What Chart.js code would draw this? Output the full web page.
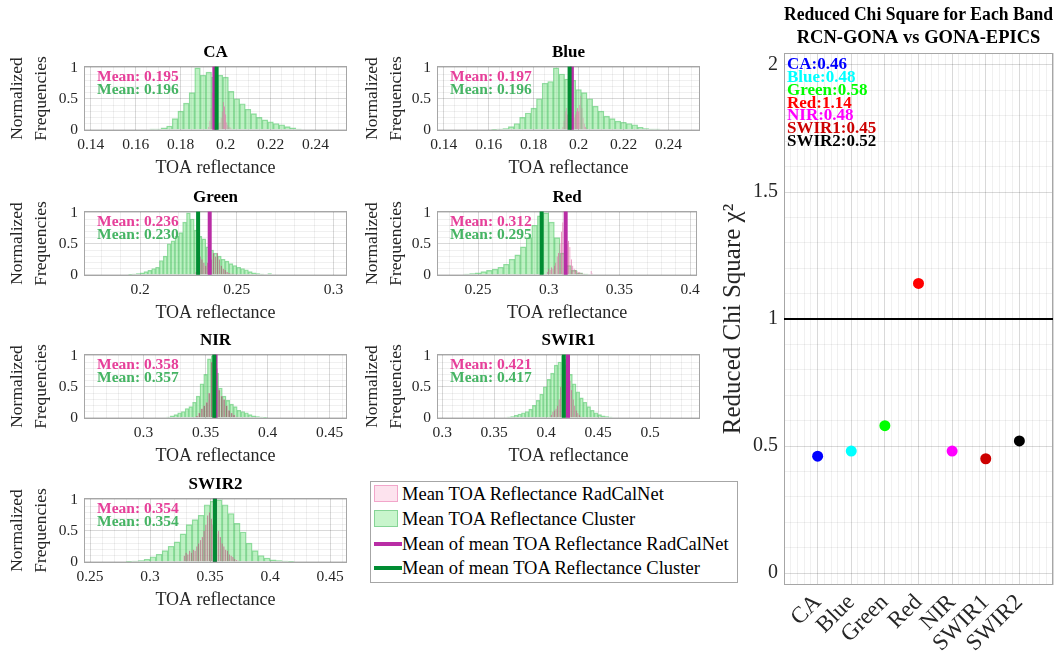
<!DOCTYPE html>
<html>
<head>
<meta charset="utf-8">
<title>Reduced Chi Square for Each Band</title>
<script src="https://cdn.jsdelivr.net/npm/chart.js@4.4.1/dist/chart.umd.min.js"></script>
<style>
	body { margin: 0; background: #fff; }
	#wrap { position: relative; width: 1062px; height: 656px; overflow: hidden; font-family: 'Liberation Serif', serif; }
	#wrap canvas { position: absolute; }
	#legend { position: absolute; left: 370px; top: 481px; width: 368px; height: 102px; border: 1px solid #a6a6a6; box-sizing: border-box; background: #fff; }
	#legend .item { position: absolute; left: 0; height: 24px; line-height: 24px; padding-left: 31px; font-size: 18.5px; color: #000; white-space: nowrap; }
	#legend .sw { position: absolute; left: 3px; }
	#legend .bar { top: 3px; width: 24px; height: 17px; border: 1px solid; box-sizing: border-box; }
	#legend .line { top: 10px; width: 28px; height: 4px; }
</style>
</head>
<body>
<div id="wrap">
	<div id="legend">
		<div class="item" style="top:0px"><span class="sw bar" style="background:#fde3ee;border-color:#f2a6ca"></span>Mean TOA Reflectance RadCalNet</div>
		<div class="item" style="top:25px"><span class="sw bar" style="background:#c8f5cc;border-color:#86d496"></span>Mean TOA Reflectance Cluster</div>
		<div class="item" style="top:50px"><span class="sw line" style="background:#b92da5"></span>Mean of mean TOA Reflectance RadCalNet</div>
		<div class="item" style="top:74px"><span class="sw line" style="background:#008c32"></span>Mean of mean TOA Reflectance Cluster</div>
	</div>
</div>
<script>
// bands and reduced chi square
var bands = ['CA', 'Blue', 'Green', 'Red', 'NIR', 'SWIR1', 'SWIR2'];
var chiSquare = [0.46, 0.48, 0.58, 1.14, 0.48, 0.45, 0.52];
var chiColors = ['#0000ff', '#00ffff', '#00ff00', '#ff0000', '#ff00ff', '#cc0000', '#000000'];

// means of the mean TOA reflectance
var rcnMean = [0.195, 0.197, 0.236, 0.312, 0.358, 0.421, 0.354];
var clusterMean = [0.196, 0.196, 0.230, 0.295, 0.357, 0.417, 0.354];

// x axis limits and tick steps of each histogram
var xMin = [0.137, 0.137, 0.171, 0.221, 0.252, 0.295, 0.245];
var xMax = [0.254, 0.254, 0.307, 0.405, 0.464, 0.548, 0.464];
var xMajor = [0.02, 0.02, 0.05, 0.05, 0.05, 0.05, 0.05];
var xMinor = [0.005, 0.005, 0.01, 0.01, 0.01, 0.01, 0.01];

// cluster histograms (normalized frequencies)
var clusterBinStart = [0.1675, 0.1625, 0.195, 0.242, 0.320, 0.364, 0.2825];
var clusterBinWidth = [0.0025, 0.0025, 0.002, 0.004, 0.003, 0.0035, 0.005];
var clusterCA = [0.01,0.01,0.03,0.06,0.18,0.30,0.43,0.60,1.00,0.88,0.93,0.85,0.88,0.85,0.62,0.50,0.42,0.33,0.26,0.20,0.16,0.13,0.10,0.08,0.05,0.03,0.01];
var clusterBlue = [0.005,0.01,0.02,0.05,0.10,0.20,0.27,0.35,0.50,0.75,0.78,1.00,0.90,0.82,0.80,0.65,0.60,0.50,0.38,0.30,0.22,0.18,0.14,0.12,0.10,0.08,0.04,0.02,0.01,0.01];
var clusterGreen = [0.005,0.01,0.02,0.03,0.05,0.07,0.10,0.12,0.23,0.30,0.50,0.55,0.62,0.68,0.85,1.00,0.90,0.72,0.62,0.58,0.45,0.40,0.35,0.30,0.25,0.22,0.18,0.15,0.12,0.10,0.08,0.05,0.03,0.02,0.01,0.00,0.02];
var clusterRed = [0.01,0.02,0.03,0.05,0.07,0.09,0.12,0.17,0.25,0.32,0.45,0.60,0.80,0.95,1.00,0.85,0.60,0.35,0.15,0.07,0.03,0.01];
var clusterNIR = [0.01,0.03,0.05,0.08,0.10,0.15,0.18,0.25,0.35,0.55,0.70,0.95,1.00,0.72,0.48,0.35,0.28,0.22,0.18,0.12,0.10,0.08,0.05,0.03,0.02,0.01,0.005];
var clusterSWIR1 = [0.01,0.02,0.04,0.06,0.08,0.10,0.14,0.20,0.28,0.38,0.50,0.62,0.72,0.85,0.90,1.00,0.85,0.70,0.55,0.42,0.32,0.25,0.18,0.12,0.08,0.05,0.03,0.02,0.01];
var clusterSWIR2 = [0.005,0.01,0.02,0.04,0.08,0.12,0.18,0.25,0.32,0.45,0.60,0.68,0.75,0.92,0.98,1.00,0.92,0.78,0.62,0.48,0.30,0.18,0.10,0.06,0.03,0.02,0.01,0.005];

// RadCalNet histograms (normalized frequencies)
var rcnBinStart = [0.1925, 0.193, 0.229, 0.299, 0.343, 0.405, 0.3285];
var rcnBinWidth = [0.0005, 0.0005, 0.001, 0.001, 0.002, 0.0015, 0.0015];
var rcnCA = [0.05,0.15,0.35,0.60,0.75,0.85,0.70,0.40,0.20,0.10,0.12,0.20,0.30,0.45,0.38,0.25,0.12,0.08,0.05,0.04,0.02,0.01];
var rcnBlue = [0.05,0.15,0.30,0.35,0.25,0.30,0.40,0.50,0.45,0.30,0.20,0.25,0.30,0.35,0.30,0.40,0.55,0.35,0.20,0.10,0.05,0.02];
var rcnGreen = [0.05,0.12,0.30,0.25,0.20,0.15,0.20,0.30,0.25,0.35,0.30,0.35,0.25,0.15,0.10,0.08,0.05,0.03,0.02,0.02,0.01];
var rcnRed = [0.05,0.10,0.08,0.12,0.10,0.15,0.20,0.30,0.35,0.50,0.70,0.85,0.75,0.60,0.50,0.55,0.45,0.25,0.15,0.10,0.08,0.06,0.04,0.05,0.03,0.02,0.02,0.00,0.01,0.00,0.00,0.06,0.02];
var rcnNIR = [0.03,0.08,0.15,0.20,0.25,0.40,0.90,1.00,0.80,0.45,0.35,0.30,0.20,0.12,0.08,0.05,0.02];
var rcnSWIR1 = [0.05,0.10,0.12,0.15,0.20,0.30,0.50,0.70,0.85,0.95,0.80,0.65,0.60,0.45,0.30,0.20,0.12,0.08,0.05,0.02];
var rcnSWIR2 = [0.10,0.15,0.12,0.18,0.15,0.20,0.18,0.25,0.30,0.35,0.40,0.50,0.60,0.75,0.80,0.70,0.60,0.55,0.45,0.50,0.40,0.30,0.25,0.20,0.18,0.12,0.10,0.08,0.05,0.03,0.02];

var clusterCounts = [clusterCA, clusterBlue, clusterGreen, clusterRed, clusterNIR, clusterSWIR1, clusterSWIR2];
var rcnCounts = [rcnCA, rcnBlue, rcnGreen, rcnRed, rcnNIR, rcnSWIR1, rcnSWIR2];

// where each small plot sits on the page
var panelLeft = [0, 355, 0, 355, 0, 355, 0];
var panelTop = [38, 38, 183, 183, 326, 326, 470];

Chart.defaults.font.family = "'Liberation Serif', serif";
Chart.defaults.color = '#262626';

function isStep(v, step) {
	var r = v / step;
	return Math.abs(r - Math.round(r)) < 1e-6;
}

function tickLabel(step) {
	return function(v) {
		return isStep(v, step) ? String(+v.toFixed(3)) : [];
	};
}

function gridColor(step) {
	return function(ctx) {
		var v = ctx.tick ? ctx.tick.value : 0;
		return isStep(v, step) ? 'rgba(0,0,0,0.15)' : 'rgba(0,0,0,0.06)';
	};
}

// ticks (for the grid) at every multiple of step inside the axis limits
function stepTicks(step) {
	return function(scale) {
		var t = [];
		var k0 = Math.ceil(scale.min / step - 1e-6), k1 = Math.floor(scale.max / step + 1e-6);
		for (var k = k0; k <= k1; k++) t.push({value: +(k * step).toFixed(6)});
		scale.ticks = t;
	};
}

function edgeTicks(scale) {
	scale.ticks = [{value: scale.min}, {value: scale.max}];
}

function bins(start, width, counts) {
	return counts.map(function(c, k) { return {x: start + k * width, y: c}; });
}

function makeCanvas(left, top, w, h) {
	var cv = document.createElement('canvas');
	cv.width = w;
	cv.height = h;
	cv.style.left = left + 'px';
	cv.style.top = top + 'px';
	cv.style.width = w + 'px';
	cv.style.height = h + 'px';
	document.getElementById('wrap').appendChild(cv);
	return cv.getContext('2d');
}

// axes box
Chart.register({
	id: 'box',
	beforeDatasetsDraw: function(chart) {
		var a = chart.chartArea, c = chart.ctx;
		c.save();
		c.strokeStyle = '#a6a6a6';
		c.lineWidth = 1;
		c.strokeRect(Math.round(a.left) + 0.5, Math.round(a.top) + 0.5, Math.round(a.right - a.left) - 1, Math.round(a.bottom - a.top) - 1);
		c.restore();
	}
});

// text notes inside the plot area
Chart.register({
	id: 'notes',
	afterDatasetsDraw: function(chart, args, opts) {
		if (!opts.lines) return;
		var a = chart.chartArea, c = chart.ctx;
		c.save();
		c.font = opts.fontStr;
		c.textBaseline = 'middle';
		for (var i = 0; i < opts.lines.length; i++) {
			c.fillStyle = opts.lines[i].color;
			c.fillText(opts.lines[i].text, a.left + opts.dx, a.top + opts.dy + i * opts.step);
		}
		c.restore();
	}
});

function histChart(i) {
	var right = panelLeft[i] > 0;
	var w = right ? 350 : 352, yw = right ? 82 : 84;
	var ctx = makeCanvas(panelLeft[i], panelTop[i], w, 142);
	var hidden = {type: 'linear', display: false, min: xMin[i], max: xMax[i], offset: false, grid: {offset: false}, afterBuildTicks: edgeTicks};

	new Chart(ctx, {
		type: 'bar',
		data: {
			datasets: [
				{
					type: 'line',
					xAxisID: 'x',
					data: [{x: clusterMean[i], y: 0}, {x: clusterMean[i], y: 1.02}],
					borderColor: '#008c32',
					borderWidth: 4,
					pointRadius: 0,
					order: 0
				},
				{
					type: 'line',
					xAxisID: 'x',
					data: [{x: rcnMean[i], y: 0}, {x: rcnMean[i], y: 1.02}],
					borderColor: '#b92da5',
					borderWidth: 4,
					pointRadius: 0,
					order: 0
				},
				{
					xAxisID: 'xp',
					data: bins(rcnBinStart[i], rcnBinWidth[i], rcnCounts[i]),
					backgroundColor: 'rgba(145,40,75,0.55)',
					borderColor: 'rgba(235,95,170,0.7)',
					borderWidth: 0.5,
					grouped: false,
					categoryPercentage: 1,
					barPercentage: 0.85,
					order: 1
				},
				{
					xAxisID: 'xg',
					data: bins(clusterBinStart[i], clusterBinWidth[i], clusterCounts[i]),
					backgroundColor: 'rgba(110,225,125,0.45)',
					borderColor: 'rgba(70,190,95,0.55)',
					borderWidth: 0.7,
					grouped: false,
					categoryPercentage: 1,
					barPercentage: 1,
					order: 2
				}
			]
		},
		options: {
			responsive: false,
			animation: false,
			events: [],
			layout: {padding: {left: 0, right: w - yw - 263, top: 0, bottom: 0}},
			scales: {
				x: {
					type: 'linear',
					min: xMin[i],
					max: xMax[i],
					offset: false,
					border: {display: false},
					grid: {offset: false, drawTicks: false, color: gridColor(xMajor[i])},
					afterBuildTicks: stepTicks(xMinor[i]),
					ticks: {autoSkip: false, minRotation: 0, maxRotation: 0, padding: 5, color: '#262626', font: {size: 15.5}, callback: tickLabel(xMajor[i])},
					title: {display: true, text: 'TOA reflectance', color: '#262626', font: {size: 18}, padding: {top: 0, bottom: 1}},
					afterFit: function(s) { s.height = 49; }
				},
				xg: hidden,
				xp: hidden,
				y: {
					type: 'linear',
					min: -0.02,
					max: 1.03,
					border: {display: false},
					grid: {drawTicks: false, color: gridColor(0.5)},
					afterBuildTicks: stepTicks(0.1),
					ticks: {autoSkip: false, padding: 6, color: '#262626', font: {size: 15.5}, callback: tickLabel(0.5)},
					title: {display: true, text: ['Normalized', 'Frequencies'], color: '#262626', font: {size: 17.5, lineHeight: 1.35}, padding: {top: 6, bottom: 0}},
					afterFit: function(s) { s.width = yw; }
				}
			},
			plugins: {
				legend: {display: false},
				tooltip: {enabled: false},
				title: {
					display: true,
					fullSize: false,
					text: bands[i],
					color: '#000',
					font: {size: 17, weight: 'bold', lineHeight: 1.2},
					padding: {top: 4.5, bottom: 3.1}
				},
				notes: {
					fontStr: "bold 15.5px 'Liberation Serif'",
					dx: 13,
					dy: 11,
					step: 13,
					lines: [
						{text: 'Mean: ' + rcnMean[i].toFixed(3), color: '#e6409a'},
						{text: 'Mean: ' + clusterMean[i].toFixed(3), color: '#46b464'}
					]
				}
			}
		}
	});
}

for (var b = 0; b < bands.length; b++) {
	histChart(b);
}

// reduced chi square panel
var chiCtx = makeCanvas(705, 0, 357, 656);

new Chart(chiCtx, {
	type: 'scatter',
	data: {
		datasets: [
			{
				type: 'line',
				data: [{x: 0, y: 1}, {x: 8, y: 1}],
				borderColor: '#000',
				borderWidth: 2,
				pointRadius: 0,
				order: 1
			},
			{
				data: chiSquare.map(function(v, k) { return {x: k + 1, y: v}; }),
				pointBackgroundColor: chiColors,
				pointBorderWidth: 0,
				pointRadius: 5.5,
				order: 0
			}
		]
	},
	options: {
		responsive: false,
		animation: false,
		events: [],
		layout: {padding: {left: 0, right: 9, top: 0, bottom: 0}},
		scales: {
			x: {
				type: 'linear',
				min: 0,
				max: 8,
				border: {display: false},
				grid: {drawTicks: false, color: gridColor(1)},
				afterBuildTicks: stepTicks(0.2),
				ticks: {
					autoSkip: false,
					minRotation: 45,
					maxRotation: 45,
					padding: 4,
					color: '#262626',
					font: {size: 23},
					callback: function(v) {
						var k = Math.round(v);
						return (Math.abs(v - k) < 1e-6 && k >= 1 && k <= bands.length) ? bands[k - 1] : [];
					}
				},
				afterFit: function(s) { s.height = 71; }
			},
			y: {
				type: 'linear',
				min: -0.047,
				max: 2.047,
				border: {display: false},
				grid: {drawTicks: false, color: gridColor(0.5)},
				afterBuildTicks: stepTicks(0.1),
				ticks: {autoSkip: false, padding: 6, color: '#262626', font: {size: 20}, callback: tickLabel(0.5)},
				title: {display: true, text: 'Reduced Chi Square \u03c7\u00b2', color: '#262626', font: {size: 25, lineHeight: 1.2}, padding: {top: 13, bottom: 0}},
				afterFit: function(s) { s.width = 79; }
			}
		},
		plugins: {
			legend: {display: false},
			tooltip: {enabled: false},
			title: {
				display: true,
				fullSize: false,
				text: ['Reduced Chi Square for Each Band', 'RCN-GONA vs GONA-EPICS'],
				color: '#000',
				font: {size: 18.5, weight: 'bold', lineHeight: 1.25},
				padding: {top: 3.5, bottom: 3.3}
			},
			notes: {
				fontStr: "bold 17px 'Liberation Serif'",
				dx: 3,
				dy: 12,
				step: 12.7,
				lines: bands.map(function(name, k) {
					return {text: name + ':' + chiSquare[k].toFixed(2), color: chiColors[k]};
				})
			}
		}
	}
});
</script>
</body>
</html>
